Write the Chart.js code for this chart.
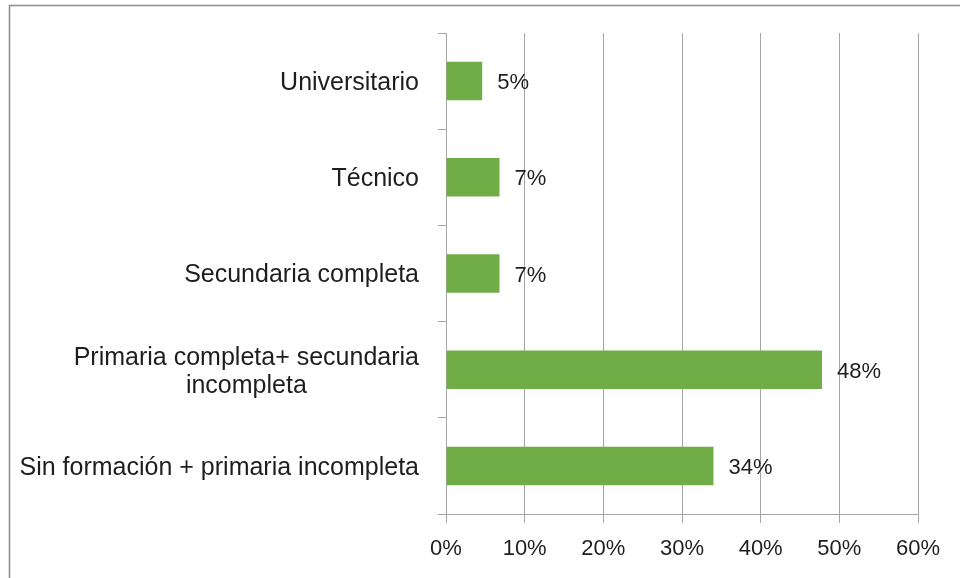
<!DOCTYPE html>
<html>
<head>
<meta charset="utf-8">
<script src="https://cdn.jsdelivr.net/npm/chart.js@4"></script>
<style>
  html, body { margin: 0; padding: 0; background: #fff; }
  #wrap { width: 960px; height: 578px; position: relative; }
</style>
</head>
<body>
<div id="wrap"><canvas id="myChart" width="960" height="578"></canvas></div>
<script>
// data (top to bottom)
const categories = [
  ["Universitario"],
  ["Técnico"],
  ["Secundaria completa"],
  ["Primaria completa+ secundaria", "incompleta"],
  ["Sin formación + primaria incompleta"],
];
const shares = [4.6, 6.8, 6.8, 47.8, 34.0];
const shareLabels = ["5%", "7%", "7%", "48%", "34%"];
const xTicks = [0, 10, 20, 30, 40, 50, 60];

const font = "Liberation Sans";
const textColor = "#1e1e1e";
const gridColor = "#a6a6a6";

// frame around the whole chart, category labels and value labels
const drawExtras = {
  id: "drawExtras",
  beforeDraw(chart) {
    const ctx = chart.ctx;
    ctx.save();
    ctx.strokeStyle = "#8c8c8c";
    ctx.lineWidth = 1.5;
    ctx.beginPath();
    ctx.moveTo(9.5, 578);
    ctx.lineTo(9.5, 5.5);
    ctx.lineTo(960, 5.5);
    ctx.stroke();
    ctx.restore();
  },
  afterDatasetsDraw(chart) {
    const ctx = chart.ctx;
    const y = chart.scales.y;
    const meta = chart.getDatasetMeta(0);
    ctx.save();
    ctx.fillStyle = textColor;
    ctx.font = "25px '" + font + "'";
    ctx.textBaseline = "middle";
    // category labels: block right aligned, lines centred in the block
    categories.forEach((lines, i) => {
      const cy = y.getPixelForValue(i) + 2;
      const right = y.right - 27;
      const widths = lines.map((l) => ctx.measureText(l).width);
      const w = Math.max(...widths);
      const lh = 28;
      lines.forEach((l, j) => {
        const ly = cy + (j - (lines.length - 1) / 2) * lh;
        ctx.textAlign = "center";
        ctx.fillText(l, right - w / 2, ly);
      });
    });
    // value labels
    ctx.font = "22px '" + font + "'";
    ctx.textAlign = "left";
    meta.data.forEach((bar, i) => {
      ctx.fillText(shareLabels[i], bar.x + 15, bar.y + 2);
    });
    ctx.restore();
  },
};

const config = {
  type: "bar",
  data: {
    labels: categories.map((c) => c.join(" ")),
    datasets: [
      {
        data: shares,
        backgroundColor: "#70ad47",
        borderWidth: 0,
        categoryPercentage: 1,
        barPercentage: 0.4,
      },
    ],
  },
  options: {
    indexAxis: "y",
    responsive: false,
    animation: false,
    layout: { padding: { top: 33, right: 42, bottom: 0, left: 0 } },
    plugins: {
      legend: { display: false },
      tooltip: { enabled: false },
    },
    scales: {
      x: {
        min: 0,
        max: 60,
        afterBuildTicks: (scale) => {
          scale.ticks = xTicks.map((v) => ({ value: v }));
        },
        afterFit: (scale) => {
          scale.height = 64;
        },
        grid: {
          color: gridColor,
          lineWidth: 1,
          tickLength: 9,
        },
        border: { color: gridColor },
        ticks: {
          color: textColor,
          font: { family: font, size: 22 },
          padding: 13,
          maxRotation: 0,
          callback: (v) => v + "%",
        },
      },
      y: {
        offset: true,
        afterFit: (scale) => {
          scale.width = 446;
        },
        grid: {
          offset: true,
          drawOnChartArea: false,
          color: gridColor,
          tickLength: 8,
        },
        border: { color: gridColor },
        ticks: {
          callback: () => "",
        },
      },
    },
  },
  plugins: [drawExtras],
};

window.myChart = new Chart(document.getElementById("myChart"), config);
</script>
</body>
</html>
